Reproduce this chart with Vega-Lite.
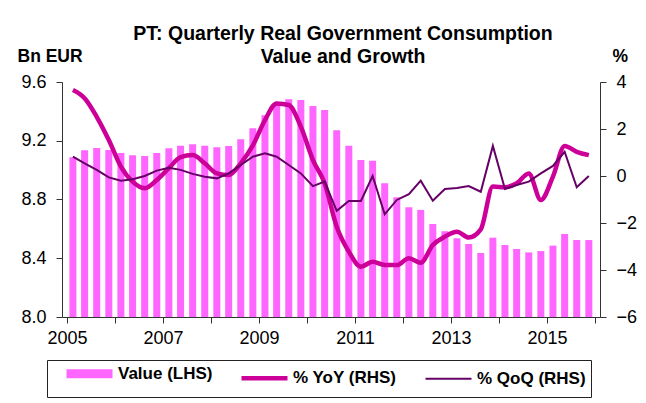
{
  "$schema": "https://vega.github.io/schema/vega-lite/v6.json",
  "width": 538,
  "height": 235,
  "autosize": {"type": "none"},
  "padding": {"left": 62, "top": 82, "right": 46, "bottom": 86},
  "background": "white",
  "title": {
    "text": ["PT: Quarterly Real Government Consumption", "Value and Growth"],
    "font": "Liberation Sans",
    "fontSize": 19.5,
    "fontWeight": "bold",
    "color": "black",
    "anchor": "middle",
    "lineHeight": 23,
    "dx": 12,
    "offset": -20
  },
  "data": {
    "values": [
      {"date": "2005-02-15", "value": 9.087, "yoy": 3.66, "qoq": 0.82},
      {"date": "2005-05-15", "value": 9.135, "yoy": 3.31, "qoq": 0.54},
      {"date": "2005-08-15", "value": 9.151, "yoy": 2.52, "qoq": 0.26},
      {"date": "2005-11-15", "value": 9.137, "yoy": 1.53, "qoq": -0.06},
      {"date": "2006-02-15", "value": 9.117, "yoy": 0.40, "qoq": -0.20},
      {"date": "2006-05-15", "value": 9.101, "yoy": -0.24, "qoq": -0.14},
      {"date": "2006-08-15", "value": 9.096, "yoy": -0.52, "qoq": 0.00},
      {"date": "2006-11-15", "value": 9.117, "yoy": -0.17, "qoq": 0.23},
      {"date": "2007-02-15", "value": 9.149, "yoy": 0.33, "qoq": 0.35},
      {"date": "2007-05-15", "value": 9.166, "yoy": 0.80, "qoq": 0.26},
      {"date": "2007-08-15", "value": 9.176, "yoy": 0.89, "qoq": 0.09},
      {"date": "2007-11-15", "value": 9.166, "yoy": 0.54, "qoq": -0.03},
      {"date": "2008-02-15", "value": 9.155, "yoy": 0.11, "qoq": -0.10},
      {"date": "2008-05-15", "value": 9.164, "yoy": 0.04, "qoq": 0.11},
      {"date": "2008-08-15", "value": 9.21, "yoy": 0.54, "qoq": 0.47},
      {"date": "2008-11-15", "value": 9.285, "yoy": 1.30, "qoq": 0.82},
      {"date": "2009-02-15", "value": 9.373, "yoy": 2.38, "qoq": 0.97},
      {"date": "2009-05-15", "value": 9.455, "yoy": 3.09, "qoq": 0.82},
      {"date": "2009-08-15", "value": 9.482, "yoy": 3.02, "qoq": 0.47},
      {"date": "2009-11-15", "value": 9.477, "yoy": 2.10, "qoq": 0.11},
      {"date": "2010-02-15", "value": 9.437, "yoy": 0.68, "qoq": -0.43},
      {"date": "2010-05-15", "value": 9.409, "yoy": -0.31, "qoq": -0.24},
      {"date": "2010-08-15", "value": 9.271, "yoy": -2.16, "qoq": -1.48},
      {"date": "2010-11-15", "value": 9.166, "yoy": -3.22, "qoq": -1.06},
      {"date": "2011-02-15", "value": 9.069, "yoy": -3.86, "qoq": -1.06},
      {"date": "2011-05-15", "value": 9.064, "yoy": -3.65, "qoq": 0.00},
      {"date": "2011-08-15", "value": 8.91, "yoy": -3.79, "qoq": -1.63},
      {"date": "2011-11-15", "value": 8.815, "yoy": -3.79, "qoq": -1.02},
      {"date": "2012-02-15", "value": 8.747, "yoy": -3.50, "qoq": -0.77},
      {"date": "2012-05-15", "value": 8.729, "yoy": -3.69, "qoq": -0.20},
      {"date": "2012-08-15", "value": 8.633, "yoy": -2.94, "qoq": -1.05},
      {"date": "2012-11-15", "value": 8.584, "yoy": -2.58, "qoq": -0.55},
      {"date": "2013-02-15", "value": 8.536, "yoy": -2.37, "qoq": -0.51},
      {"date": "2013-05-15", "value": 8.497, "yoy": -2.62, "qoq": -0.43},
      {"date": "2013-08-15", "value": 8.436, "yoy": -2.27, "qoq": -0.67},
      {"date": "2013-11-15", "value": 8.54, "yoy": -0.45, "qoq": 1.28},
      {"date": "2014-02-15", "value": 8.49, "yoy": -0.48, "qoq": -0.55},
      {"date": "2014-05-15", "value": 8.463, "yoy": -0.31, "qoq": -0.38},
      {"date": "2014-08-15", "value": 8.44, "yoy": 0.11, "qoq": -0.24},
      {"date": "2014-11-15", "value": 8.449, "yoy": -1.02, "qoq": 0.11},
      {"date": "2015-02-15", "value": 8.486, "yoy": -0.03, "qoq": 0.43},
      {"date": "2015-05-15", "value": 8.565, "yoy": 1.28, "qoq": 1.03},
      {"date": "2015-08-15", "value": 8.524, "yoy": 1.03, "qoq": -0.48},
      {"date": "2015-11-15", "value": 8.524, "yoy": 0.89, "qoq": 0.00}
    ]
  },
  "encoding": {
    "x": {
      "field": "date",
      "type": "temporal",
      "scale": {
        "type": "utc",
        "domain": [
          {"year": 2005, "month": 1, "date": 1, "utc": true},
          {"year": 2016, "month": 1, "date": 1, "utc": true}
        ]
      },
      "axis": {
        "title": null,
        "grid": false,
        "values": [
          {"year": 2005, "month": 1, "date": 1, "utc": true},
          {"year": 2006, "month": 1, "date": 1, "utc": true},
          {"year": 2007, "month": 1, "date": 1, "utc": true},
          {"year": 2008, "month": 1, "date": 1, "utc": true},
          {"year": 2009, "month": 1, "date": 1, "utc": true},
          {"year": 2010, "month": 1, "date": 1, "utc": true},
          {"year": 2011, "month": 1, "date": 1, "utc": true},
          {"year": 2012, "month": 1, "date": 1, "utc": true},
          {"year": 2013, "month": 1, "date": 1, "utc": true},
          {"year": 2014, "month": 1, "date": 1, "utc": true},
          {"year": 2015, "month": 1, "date": 1, "utc": true},
          {"year": 2016, "month": 1, "date": 1, "utc": true}
        ],
        "format": "%Y",
        "labelExpr": "utcyear(datum.value) % 2 == 1 && utcyear(datum.value) < 2016 ? datum.label : ''",
        "labelPadding": 6,
        "labelDx": 6,
        "labelOverlap": false,
        "labelFlush": false
      }
    }
  },
  "layer": [
    {
      "mark": {"type": "bar", "size": 7, "color": "#FF66FF"},
      "encoding": {
        "y": {
          "field": "value",
          "type": "quantitative",
          "scale": {"domain": [8.0, 9.6], "zero": false, "nice": false},
          "axis": {
            "orient": "left",
            "values": [8.0, 8.4, 8.8, 9.2, 9.6],
            "format": ".1f",
            "title": "Bn EUR",
            "titleFontSize": 17.5,
            "titleAngle": 0,
            "titleAlign": "left",
            "titleBaseline": "alphabetic",
            "titleX": -45,
            "titleY": -21,
            "grid": false
          }
        },
        "y2": {"datum": 8.0},
        "color": {
          "datum": "Value (LHS)",
          "scale": {
            "domain": ["Value (LHS)", "% YoY (RHS)", "% QoQ (RHS)"],
            "range": ["#FF66FF", "#CC0099", "#660066"]
          },
          "legend": {
            "title": null,
            "orient": "none",
            "legendX": -15,
            "legendY": 278,
            "direction": "horizontal",
            "symbolType": "M-2.3,0H2.3",
            "symbolSize": 400,
            "symbolOffset": 29,
            "labelOffset": 20,
            "columnPadding": 14,
            "padding": 5,
            "strokeColor": "#222222",
            "labelFont": "Liberation Sans",
            "labelFontSize": 17,
            "labelFontWeight": "bold",
            "labelColor": "black",
            "labelLimit": 300,
            "encode": {
              "legend": {
                "update": {
                  "stroke": {"value": "#222222"},
                  "strokeWidth": {"value": 1}
                }
              },
              "symbols": {
                "update": {
                  "stroke": {"scale": "color", "field": "value"},
                  "fill": {"value": "transparent"},
                  "strokeWidth": {"signal": "datum.value === 'Value (LHS)' ? 9 : datum.value === '% YoY (RHS)' ? 4.5 : 2"},
                  "strokeCap": {"value": "butt"}
                }
              }
            }
          }
        }
      }
    },
    {
      "layer": [
        {
          "mark": {"type": "rule", "color": "#FF0000", "strokeWidth": 2, "strokeDash": [6, 4]},
          "encoding": {
            "y": {
              "datum": 0,
              "type": "quantitative",
              "scale": {"domain": [-6, 4], "nice": false},
              "axis": {
                "orient": "right",
                "values": [-6, -4, -2, 0, 2, 4],
                "title": "%",
                "titleFontSize": 17.5,
                "titleAngle": 0,
                "titleAlign": "left",
                "titleBaseline": "alphabetic",
                "titleX": 12,
                "titleY": -21,
                "grid": false
              }
            }
          }
        },
        {
          "mark": {"type": "line", "strokeWidth": 4.5, "interpolate": "monotone"},
          "encoding": {
            "y": {"field": "yoy", "type": "quantitative", "title": "%"},
            "color": {"datum": "% YoY (RHS)"}
          }
        },
        {
          "mark": {"type": "line", "strokeWidth": 2},
          "encoding": {
            "y": {"field": "qoq", "type": "quantitative", "title": "%"},
            "color": {"datum": "% QoQ (RHS)"}
          }
        }
      ]
    }
  ],
  "resolve": {"scale": {"y": "independent"}},
  "config": {
    "view": {"stroke": null},
    "legend": {"strokeColor": "#222222"},
    "axis": {
      "labelFont": "Liberation Sans",
      "labelFontSize": 18,
      "labelColor": "black",
      "titleFont": "Liberation Sans",
      "titleFontSize": 18,
      "titleFontWeight": "bold",
      "titleColor": "black",
      "domainColor": "#333333",
      "tickColor": "#333333",
      "tickSize": 6,
      "labelPadding": 10,
      "domainWidth": 1,
      "tickWidth": 1
    }
  }
}
